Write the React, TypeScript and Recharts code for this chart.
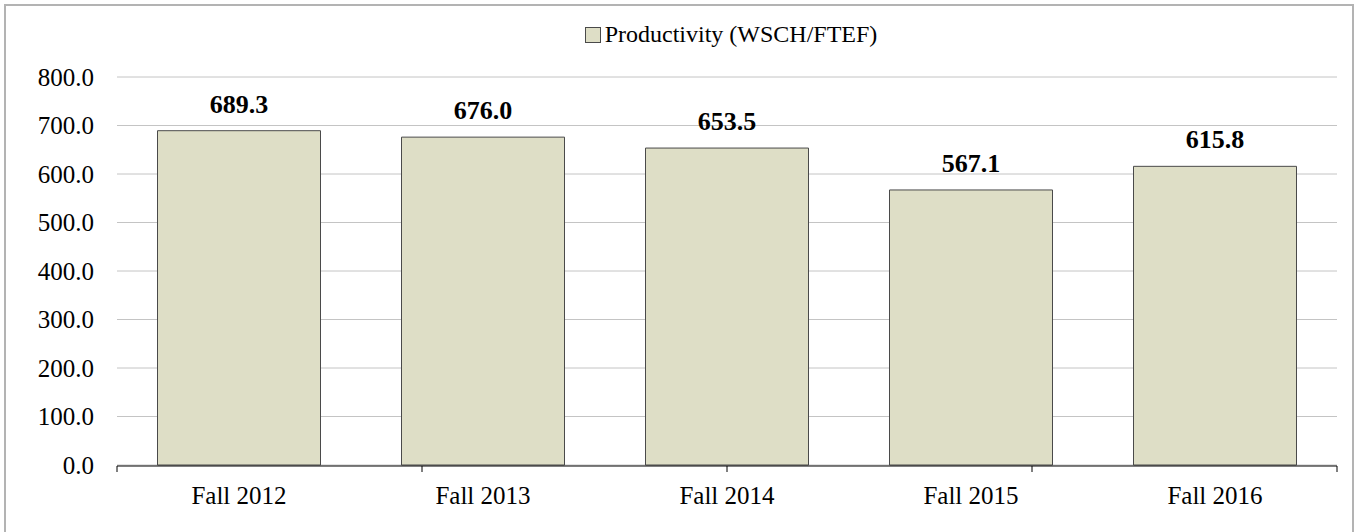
import { BarChart, Bar, XAxis, YAxis, CartesianGrid, Legend, LabelList } from 'recharts'

const terms = ['Fall 2012', 'Fall 2013', 'Fall 2014', 'Fall 2015', 'Fall 2016']
const productivity = [689.3, 676.0, 653.5, 567.1, 615.8]
const yTicks = [0, 100, 200, 300, 400, 500, 600, 700, 800]
const termEdges = [0, 1, 2, 3, 4, 5]

const data = terms.map((term, i) => ({ term, value: productivity[i] }))

const FONT = '"Liberation Serif", "Times New Roman", serif'
const BAR_FILL = '#DEDEC6'
const BAR_STROKE = '#4a4a4a'

const renderLegend = () => (
  <div
    style={{
      display: 'flex',
      justifyContent: 'center',
      alignItems: 'center',
      fontFamily: FONT,
      fontSize: 24,
      color: '#000',
    }}
  >
    <span
      style={{
        display: 'inline-block',
        width: 14,
        height: 14,
        background: BAR_FILL,
        border: `1px solid ${BAR_STROKE}`,
        marginRight: 4,
      }}
    />
    <span>Productivity (WSCH/FTEF)</span>
  </div>
)

export default function App() {
  return (
    <div
      style={{
        position: 'absolute',
        left: 0,
        top: 0,
        width: 1355,
        height: 532,
        overflow: 'hidden',
        background: '#fff',
      }}
    >
      <div
        style={{
          position: 'absolute',
          left: 4,
          top: 4,
          width: 1346,
          height: 560,
          border: '2px solid #b3b3b3',
        }}
      />
      <BarChart
        width={1355}
        height={532}
        data={data}
        margin={{ top: 77, right: 18, bottom: 65, left: 0 }}
        barCategoryGap="16.6%"
        style={{ fontFamily: FONT }}
      >
        <CartesianGrid vertical={false} stroke="#c4c4c4" strokeWidth={1} />
        <XAxis
          xAxisId="edges"
          type="number"
          domain={[0, 5]}
          ticks={termEdges}
          allowDataOverflow
          height={1}
          tickSize={6}
          tickFormatter={() => ''}
          axisLine={{ stroke: '#000', strokeWidth: 1 }}
          tickLine={{ stroke: '#000', strokeWidth: 1 }}
        />
        <XAxis
          xAxisId="cat"
          dataKey="term"
          height={1}
          axisLine={false}
          tickLine={false}
          tickSize={6}
          tickMargin={15}
          tick={{ fill: '#000', fontSize: 25, fontFamily: FONT }}
        />
        <YAxis
          width={117}
          domain={[0, 800]}
          ticks={yTicks}
          axisLine={false}
          tickLine={false}
          tickSize={6}
          tickMargin={17}
          tickFormatter={(v: number) => v.toFixed(1)}
          tick={{ fill: '#000', fontSize: 25, fontFamily: FONT }}
        />
        <Legend
          layout="horizontal"
          verticalAlign="middle"
          align="center"
          content={renderLegend}
          wrapperStyle={{ top: 21, left: 121, width: 1220 }}
        />
        <Bar
          xAxisId="cat"
          dataKey="value"
          name="Productivity (WSCH/FTEF)"
          fill={BAR_FILL}
          stroke={BAR_STROKE}
          strokeWidth={1}
          isAnimationActive={false}
        >
          <LabelList
            dataKey="value"
            position="top"
            offset={18}
            formatter={(v: number) => v.toFixed(1)}
            style={{ fill: '#000', fontSize: 26, fontWeight: 'bold', fontFamily: FONT }}
          />
        </Bar>
      </BarChart>
    </div>
  )
}
